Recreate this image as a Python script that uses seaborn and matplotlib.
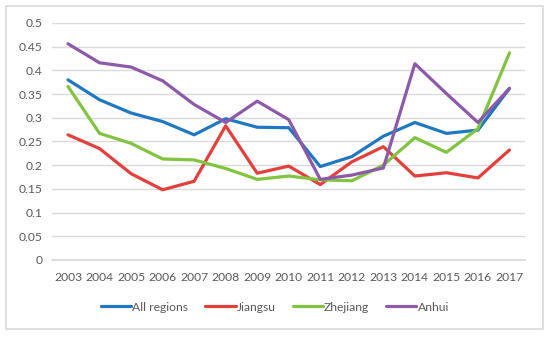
import numpy as np
import pandas as pd
import matplotlib
matplotlib.use("Agg")
import matplotlib.pyplot as plt
import seaborn as sns

years = list(range(2003, 2018))
all_regions = [0.380, 0.338, 0.310, 0.292, 0.264, 0.298, 0.280, 0.279, 0.197, 0.218,
               0.261, 0.290, 0.267, 0.274, 0.362]
jiangsu = [0.264, 0.235, 0.182, 0.148, 0.166, 0.283, 0.183, 0.198, 0.159, 0.207,
           0.239, 0.177, 0.184, 0.173, 0.232]
zhejiang = [0.366, 0.267, 0.246, 0.213, 0.211, 0.193, 0.170, 0.177, 0.169, 0.167,
            0.200, 0.258, 0.227, 0.277, 0.437]
anhui = [0.456, 0.416, 0.407, 0.378, 0.328, 0.290, 0.335, 0.296, 0.170, 0.179,
         0.194, 0.414, 0.351, 0.290, 0.362]

series = ["All regions", "Jiangsu", "Zhejiang", "Anhui"]
colors = ["#1f78c1", "#e33f3c", "#82c341", "#8c5aa8"]

df = pd.DataFrame({"year": years, "All regions": all_regions, "Jiangsu": jiangsu,
                   "Zhejiang": zhejiang, "Anhui": anhui})
long = df.melt(id_vars="year", var_name="region", value_name="value")
long["pos"] = long["year"] - years[0]

sns.set_theme(style="white")
plt.rcParams["font.family"] = ["Lato", "DejaVu Sans"]

fig = plt.figure(figsize=(5.5, 3.38), dpi=100)
ax = fig.add_axes([0.095, 0.231, 0.86, 0.701])
sns.lineplot(data=long, x="pos", y="value", hue="region", hue_order=series,
             palette=colors, linewidth=2.3, ax=ax)

ax.set_xlim(-0.5, len(years) - 0.5)
ax.set_ylim(0, 0.5)
ax.set_yticks(np.arange(0, 0.51, 0.05))
ax.set_yticklabels(["0", "0.05", "0.1", "0.15", "0.2", "0.25", "0.3", "0.35",
                    "0.4", "0.45", "0.5"])
ax.set_xticks(range(len(years)))
ax.set_xticklabels([str(y) for y in years])
ax.tick_params(colors="#595959", labelsize=8.7, length=0)
ax.tick_params(axis="x", pad=9)
ax.tick_params(axis="y", pad=7)
ax.grid(axis="y", color="#d9d9d9", linewidth=1)
ax.set_axisbelow(True)
for s in ax.spines.values():
    s.set_visible(False)
ax.spines["bottom"].set_visible(True)
ax.spines["bottom"].set_color("#d9d9d9")
ax.set_xlabel("")
ax.set_ylabel("")

# legend centred under the whole chart, not just the axes
ax.legend(loc="upper center", bbox_to_anchor=(0.5, 0.14), bbox_transform=fig.transFigure,
          ncol=4, frameon=False, fontsize=8.7, labelcolor="#595959",
          handlelength=2.5, handletextpad=0.1, columnspacing=1.4)

fig.patches.append(plt.Rectangle((0.01, 0.028), 0.978, 0.954, transform=fig.transFigure,
                                 fill=False, edgecolor="#d9d9d9", linewidth=1.2))
fig.savefig("out.png", dpi=100, facecolor="white")
